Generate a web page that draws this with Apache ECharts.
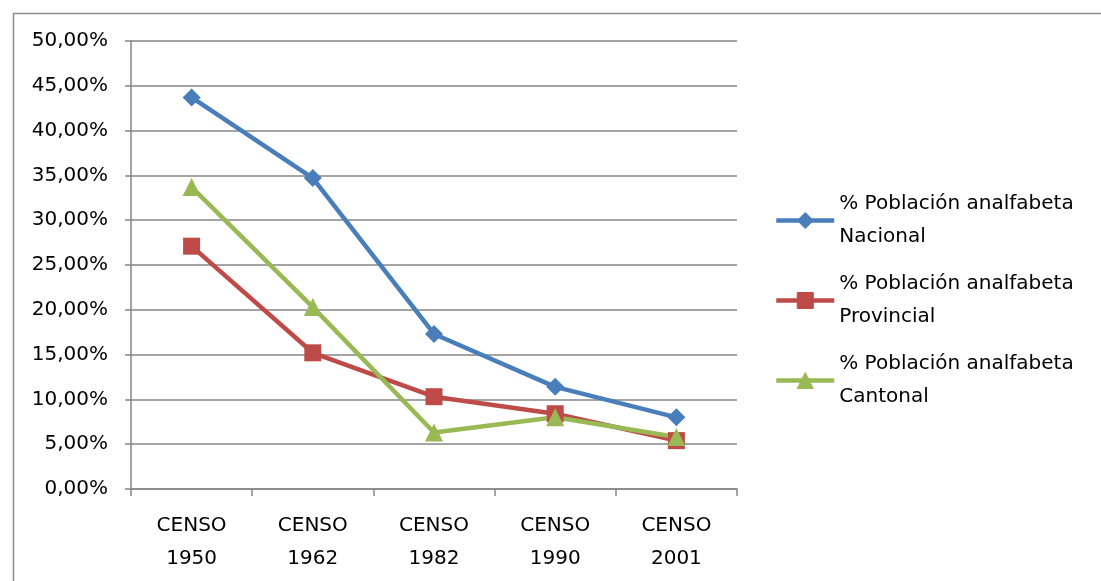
<!DOCTYPE html>
<html>
<head>
<meta charset="utf-8">
<script src="https://cdn.jsdelivr.net/npm/echarts@6/dist/echarts.min.js"></script>
<style>
html,body{margin:0;padding:0;background:#fff;}
#chart{width:1101px;height:581px;}
</style>
</head>
<body>
<div id="chart"></div>
<script>
const categories = ['CENSO\n1950', 'CENSO\n1962', 'CENSO\n1982', 'CENSO\n1990', 'CENSO\n2001'];
const nacional = [43.7, 34.7, 17.3, 11.4, 8.0];
const provincial = [27.1, 15.2, 10.3, 8.4, 5.4];
const cantonal = [33.7, 20.3, 6.3, 8.0, 5.8];
const seriesNames = ['% Población analfabeta\nNacional', '% Población analfabeta\nProvincial', '% Población analfabeta\nCantonal'];
const colors = ['#4A7EBB', '#BE4B48', '#98B954'];

const FONT = 'DejaVu Sans';
const chart = echarts.init(document.getElementById('chart'));
function mk(name, data, color, symbol, size) {
  return {
    name: name, type: 'line', data: data, color: color,
    symbol: symbol, symbolSize: size, showSymbol: true,
    lineStyle: {width: 4.5, color: color},
    itemStyle: {color: color, borderColor: color, borderWidth: 0},
    emphasis: {disabled: true},
    animation: false
  };
}
chart.setOption({
  animation: false,
  backgroundColor: '#fff',
  graphic: [{
    type: 'rect', left: 11, top: 11, shape: {x: 0, y: 0, width: 1200, height: 700},
    style: {fill: 'none', stroke: '#8c8c8c', lineWidth: 1.5}, silent: true
  }],
  grid: {left: 131, right: 364, top: 41, bottom: 92, containLabel: false},
  legend: {
    orient: 'vertical', left: 769, top: 166,
    itemWidth: 58, itemHeight: 20, itemGap: -19,
    lineStyle: {width: 4.5},
    textStyle: {fontFamily: FONT, fontSize: 20, color: '#000', lineHeight: 33, padding: [33, 0, 0, 0]},
    data: seriesNames.map((n, i) => ({name: n, itemStyle: {color: colors[i], borderColor: colors[i], borderWidth: 1}}))
  },
  xAxis: {
    type: 'category', data: categories, boundaryGap: true,
    axisLine: {lineStyle: {color: '#868686', width: 1.5}},
    axisTick: {show: true, inside: false, length: 7, alignWithLabel: false, lineStyle: {color: '#868686', width: 1.5}},
    axisLabel: {fontFamily: FONT, fontSize: 20, color: '#000', margin: 20, lineHeight: 33},
    splitLine: {show: false}
  },
  yAxis: {
    type: 'value', min: 0, max: 50, interval: 5,
    axisLine: {show: true, lineStyle: {color: '#868686', width: 1.5}},
    axisTick: {show: true, length: 6, lineStyle: {color: '#868686', width: 1.5}},
    axisLabel: {fontFamily: FONT, fontSize: 20, color: '#000', margin: 23,
      formatter: v => v.toFixed(2).replace('.', ',') + '%'},
    splitLine: {show: true, lineStyle: {color: '#868686', width: 1.5}}
  },
  series: [
    mk(seriesNames[0], nacional, colors[0], 'diamond', 18),
    mk(seriesNames[1], provincial, colors[1], 'rect', 17),
    mk(seriesNames[2], cantonal, colors[2], 'triangle', 18)
  ]
});
</script>
</body>
</html>
